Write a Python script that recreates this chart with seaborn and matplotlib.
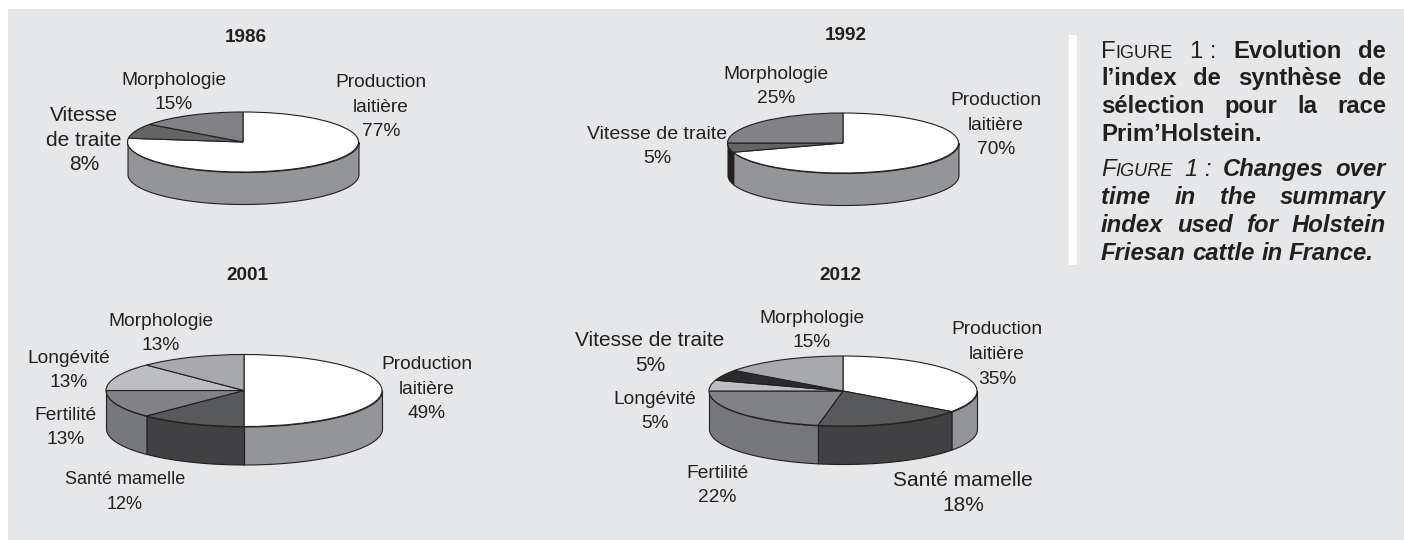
import matplotlib
matplotlib.use('Agg')
import matplotlib.pyplot as plt
from matplotlib.patches import Rectangle
import numpy as np
import seaborn as sns

W, H = 1404, 540
INK = '#231f20'

# Data: printed percentages, and the slice sizes as drawn in the picture
years = ['1986', '1992', '2001', '2012']
labels_1986 = ['Production\nlaitière', 'Vitesse\nde traite', 'Morphologie']
values_1986 = [77, 8, 15]
slices_1986 = [77, 8, 15]
labels_1992 = ['Production\nlaitière', 'Vitesse de traite', 'Morphologie']
values_1992 = [70, 5, 25]
slices_1992 = [70, 5, 25]
labels_2001 = ['Production\nlaitière', 'Santé mamelle', 'Fertilité', 'Longévité', 'Morphologie']
values_2001 = [49, 12, 13, 13, 13]
slices_2001 = [50, 12.5, 12.5, 12.5, 12.5]
labels_2012 = ['Production\nlaitière', 'Santé mamelle', 'Fertilité', 'Longévité', 'Vitesse de traite', 'Morphologie']
values_2012 = [35, 18, 22, 5, 5, 15]
slices_2012 = [35, 18, 22, 5, 5, 15]

# Styling: one entry per slice
tops_1986 = ['#ffffff', '#636466', '#808285']
sides_1986 = ['#939598', '#414042', '#77787b']
tops_1992 = ['#ffffff', '#636466', '#808285']
sides_1992 = ['#939598', '#231f20', '#77787b']
tops_2001 = ['#ffffff', '#58595b', '#808285', '#bcbec0', '#a7a9ac']
sides_2001 = ['#939598', '#414042', '#77787b', '#939598', '#939598']
tops_2012 = ['#ffffff', '#58595b', '#808285', '#bcbec0', '#2b2a2c', '#a7a9ac']
sides_2012 = ['#939598', '#414042', '#77787b', '#939598', '#231f20', '#939598']

# Layout in pixels: centre x, centre y, radius x, radius y, depth
geom = {'1986': (243, 142, 115.5, 30, 32), '1992': (843, 143, 115.5, 30, 32),
        '2001': (244, 390.5, 138, 36, 38), '2012': (843, 391, 134, 35, 38)}
title_pos = {'1986': (246, 37), '1992': (846, 36), '2001': (247, 276), '2012': (840, 275)}
# label centre x, centre y, font size for every slice
label_pos = {
    '1986': [(381, 105, 13.8), (84, 138, 15), (174, 90, 13.8)],
    '1992': [(996, 123, 13.8), (657, 144, 14), (776, 84, 13.8)],
    '2001': [(427, 387, 13.8), (125, 490, 13), (66, 425, 13.8), (69, 368, 13.8), (161, 331, 13.8)],
    '2012': [(997, 352, 13.8), (963, 491, 15), (717, 483, 13.8), (655, 409, 13.8), (650, 351, 15), (812, 328, 13.8)],
}
LINE_GAP = 24.6
data = {'1986': (values_1986, slices_1986, labels_1986, tops_1986, sides_1986),
        '1992': (values_1992, slices_1992, labels_1992, tops_1992, sides_1992),
        '2001': (values_2001, slices_2001, labels_2001, tops_2001, sides_2001),
        '2012': (values_2012, slices_2012, labels_2012, tops_2012, sides_2012)}

sns.set_theme(style='white')
plt.rcParams['font.family'] = ['Liberation Sans', 'DejaVu Sans']

fig = plt.figure(figsize=(W / 100, H / 100), dpi=100, facecolor='white')


def pixel_axes(zorder):
    ax = fig.add_axes([0, 0, 1, 1], zorder=zorder)
    ax.set_xlim(0, W)
    ax.set_ylim(H, 0)
    ax.axis('off')
    return ax


bg = pixel_axes(0)
bg.add_patch(Rectangle((8, 9), W - 8, H - 9, facecolor='#e6e7e9', edgecolor='none'))
bg.add_patch(Rectangle((1069, 35), 8, 230, facecolor='white', edgecolor='none'))
over = pixel_axes(3)


def draw_pie(year):
    values, slices, labels, tops, sides = data[year]
    cx, cy, rx, ry, depth = geom[year]
    pad = 4
    ax = fig.add_axes([(cx - rx - pad) / W, 1 - (cy + ry + depth + pad) / H,
                       (2 * rx + 2 * pad) / W, (2 * ry + depth + 2 * pad) / H], zorder=1)
    wedges, _ = ax.pie(slices, colors=tops, startangle=90, counterclock=False, radius=1,
                       wedgeprops={'edgecolor': INK, 'linewidth': 0.8})
    d = depth / ry
    # the rim: only the part of each slice on the front of the disc shows
    for wedge, side in zip(wedges, sides):
        a = max(wedge.theta1, -180)
        b = min(wedge.theta2, 0)
        if b <= a:
            continue
        t = np.radians(np.linspace(a, b, 80))
        ax.fill_between(np.cos(t), np.sin(t), np.sin(t) - d, facecolor=side,
                        edgecolor=INK, linewidth=0.8, zorder=0.5)
    ax.set_aspect('auto')
    ax.set_xlim(-1 - pad / rx, 1 + pad / rx)
    ax.set_ylim(-1 - d - pad / ry, 1 + pad / ry)
    ax.patch.set_visible(False)

    for label, value, (x, y, size) in zip(labels, values, label_pos[year]):
        # one text per line, so the line gap stays fixed whatever the letters
        lines = f'{label}\n{value}%'.split('\n')
        for i, line in enumerate(lines):
            base = y + (i - (len(lines) - 1) / 2) * LINE_GAP + 0.5 * size
            over.text(x, base, line, ha='center', va='baseline', fontsize=size, color=INK)
    tx, ty = title_pos[year]
    over.text(tx, ty, year, ha='center', va='center', fontsize=13.6, fontweight='bold', color=INK)


for year in years:
    draw_pie(year)

# Caption, justified by hand. Each word is a list of (text, size scale) runs
SC = 0.76
fr_small_caps = [('F', 1), ('IGURE', SC)]
caption = [
    (52, 'normal', 'normal', True, [fr_small_caps, [('1 :', 1)]], ['Evolution', 'de']),
    (79, 'bold', 'normal', True, [], ['l’index', 'de', 'synthèse', 'de']),
    (107, 'bold', 'normal', True, [], ['sélection', 'pour', 'la', 'race']),
    (135, 'bold', 'normal', False, [], ['Prim’Holstein.']),
    (170, 'normal', 'italic', True, [fr_small_caps, [('1 :', 1)]], ['Changes', 'over']),
    (198, 'bold', 'italic', True, [], ['time', 'in', 'the', 'summary']),
    (226, 'bold', 'italic', True, [], ['index', 'used', 'for', 'Holstein']),
    (254, 'bold', 'italic', False, [], ['Friesan', 'cattle', 'in', 'France.']),
]
LEFT, RIGHT, SIZE = 1101, 1386, 17.2
renderer = fig.canvas.get_renderer()


def run_width(text, size, weight, style):
    t = over.text(0, 0, text, fontsize=size, fontweight=weight, fontstyle=style)
    w = t.get_window_extent(renderer).width
    t.remove()
    return w


for y, weight, style, justify, lead, words in caption:
    # lead words are regular, the rest bold
    items = [(w, weight) for w in lead] + [([(w, 1)], 'bold') for w in words]
    widths = [sum(run_width(txt, SIZE * s, wt, style) for txt, s in word) for word, wt in items]
    gap = (RIGHT - LEFT - sum(widths)) / (len(items) - 1) if justify else 6.5
    x = LEFT
    for (word, wt), width in zip(items, widths):
        for txt, s in word:
            over.text(x, y + 6, txt, fontsize=SIZE * s, fontweight=wt, fontstyle=style,
                      color=INK, ha='left', va='baseline')
            x += run_width(txt, SIZE * s, wt, style)
        x += gap

fig.savefig('out.png', dpi=100)
